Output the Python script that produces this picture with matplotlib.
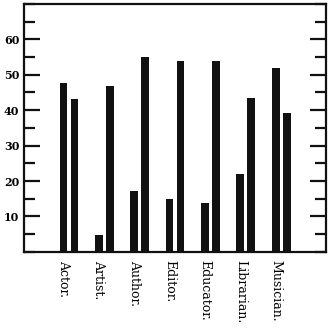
import numpy as np
import matplotlib
matplotlib.use('Agg')
import matplotlib.pyplot as plt
from matplotlib.ticker import MultipleLocator

# Values
occupations = ['Actor.', 'Artist.', 'Author.', 'Editor.', 'Educator.', 'Librarian.', 'Musician.']
first_bars = [47.7, 4.9, 17.2, 14.8, 13.7, 21.9, 51.8]
second_bars = [43.2, 46.8, 55.1, 54.0, 54.0, 43.4, 39.1]
y_ticks = [10, 20, 30, 40, 50, 60]

fig = plt.figure(figsize=(3.30, 3.28), dpi=100)
ax = fig.add_axes([0.073, 0.232, 0.915, 0.756])

x = np.arange(len(occupations))
width = 0.22
offset = 0.155
ax.bar(x - offset, first_bars, width, color='#111111')
ax.bar(x + offset, second_bars, width, color='#111111')

ax.set_xlim(-1.27, len(occupations) - 1 + 1.27)
ax.set_ylim(0, 70)

ax.set_yticks(y_ticks)
ax.set_yticklabels([str(t) for t in y_ticks], family='DejaVu Serif',
                   fontsize=8, fontweight='bold')
ax.yaxis.set_minor_locator(MultipleLocator(5))
ax.tick_params(axis='y', which='major', direction='in', length=11.5, width=1.6,
               left=True, right=True, pad=3.5, color='#111111')
ax.tick_params(axis='y', which='minor', direction='in', length=8, width=1.6,
               left=True, right=True, color='#111111')

ax.set_xticks(x - offset)
ax.set_xticklabels(occupations, rotation=-90, family='DejaVu Serif', fontsize=9,
                   va='top', ha='center')
ax.tick_params(axis='x', length=0, pad=6)

for s in ax.spines.values():
    s.set_linewidth(1.6)
    s.set_color('#111111')

plt.savefig('out.png', dpi=100)
